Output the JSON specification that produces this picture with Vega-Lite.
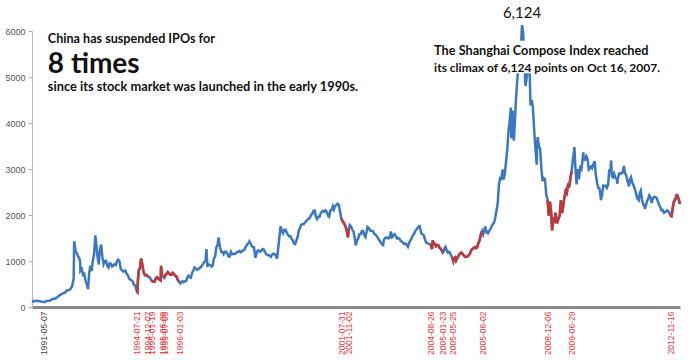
{
  "$schema": "https://vega.github.io/schema/vega-lite/v6.json",
  "width": 648,
  "height": 276,
  "autosize": {"type": "none"},
  "padding": {"left": 32, "top": 31, "right": 15, "bottom": 53},
  "background": "white",
  "config": {"view": {"stroke": null}},
  "datasets": {
    "sse": [
      {"date":"1990-12-19","value":100},{"date":"1990-12-31","value":128},{"date":"1991-01-31","value":129},{"date":"1991-02-28","value":133},{"date":"1991-03-31","value":120},{"date":"1991-04-30","value":113},{"date":"1991-05-17","value":105},{"date":"1991-06-30","value":137},{"date":"1991-07-31","value":143},{"date":"1991-08-31","value":180},{"date":"1991-09-30","value":180},{"date":"1991-10-31","value":219},{"date":"1991-11-30","value":259},{"date":"1991-12-31","value":293},
      {"date":"1992-01-31","value":313},{"date":"1992-02-29","value":364},{"date":"1992-03-31","value":372},{"date":"1992-04-30","value":445},{"date":"1992-05-20","value":617},{"date":"1992-05-26","value":1429},{"date":"1992-06-15","value":1200},{"date":"1992-06-30","value":1170},{"date":"1992-07-15","value":1100},{"date":"1992-07-31","value":1050},{"date":"1992-08-10","value":960},{"date":"1992-08-12","value":781},{"date":"1992-08-31","value":823},{"date":"1992-09-15","value":700},{"date":"1992-09-30","value":720},{"date":"1992-10-15","value":580},{"date":"1992-10-31","value":500},{"date":"1992-11-17","value":386},{"date":"1992-11-30","value":720},{"date":"1992-12-15","value":900},{"date":"1992-12-31","value":780},
      {"date":"1993-01-15","value":1000},{"date":"1993-01-31","value":1150},{"date":"1993-02-16","value":1558},{"date":"1993-02-28","value":1360},{"date":"1993-03-15","value":1100},{"date":"1993-03-31","value":925},{"date":"1993-04-15","value":1250},{"date":"1993-04-30","value":1358},{"date":"1993-05-15","value":1100},{"date":"1993-05-31","value":934},{"date":"1993-06-15","value":1000},{"date":"1993-06-30","value":1007},{"date":"1993-07-15","value":900},{"date":"1993-07-31","value":861},{"date":"1993-08-15","value":950},{"date":"1993-08-31","value":936},{"date":"1993-09-15","value":880},{"date":"1993-09-30","value":903},{"date":"1993-10-15","value":930},{"date":"1993-10-31","value":913},{"date":"1993-11-15","value":1000},{"date":"1993-11-30","value":1030},{"date":"1993-12-15","value":1000},{"date":"1993-12-31","value":833},
      {"date":"1994-01-15","value":800},{"date":"1994-01-31","value":770},{"date":"1994-02-15","value":780},{"date":"1994-02-28","value":792},{"date":"1994-03-15","value":720},{"date":"1994-03-31","value":693},{"date":"1994-04-15","value":620},{"date":"1994-04-30","value":600},{"date":"1994-05-15","value":580},{"date":"1994-05-31","value":560},{"date":"1994-06-15","value":480},{"date":"1994-06-30","value":470},{"date":"1994-07-15","value":380},
      {"date":"1994-07-21","value":340,"s":"1"},{"date":"1994-07-29","value":325,"s":"1"},{"date":"1994-08-05","value":600,"s":"1"},{"date":"1994-08-15","value":800,"s":"1"},{"date":"1994-08-31","value":850,"s":"1"},{"date":"1994-09-13","value":1052,"s":"1"},{"date":"1994-09-30","value":910,"s":"1"},{"date":"1994-10-15","value":750,"s":"1"},{"date":"1994-10-31","value":690,"s":"1"},{"date":"1994-11-15","value":700,"s":"1"},{"date":"1994-11-30","value":680,"s":"1"},{"date":"1994-12-07","value":660,"s":"1"},
      {"date":"1994-12-31","value":647},
      {"date":"1995-01-19","value":580,"s":"2"},{"date":"1995-01-31","value":563,"s":"2"},{"date":"1995-02-15","value":550,"s":"2"},{"date":"1995-02-28","value":550,"s":"2"},{"date":"1995-03-15","value":620,"s":"2"},{"date":"1995-03-31","value":647,"s":"2"},{"date":"1995-04-15","value":620,"s":"2"},{"date":"1995-04-30","value":600,"s":"2"},{"date":"1995-05-17","value":580,"s":"2"},{"date":"1995-05-22","value":897,"s":"2"},{"date":"1995-05-31","value":700,"s":"2"},{"date":"1995-06-09","value":680,"s":"2"},
      {"date":"1995-06-30","value":630},
      {"date":"1995-07-05","value":640,"s":"3"},{"date":"1995-07-15","value":700,"s":"3"},{"date":"1995-07-31","value":720,"s":"3"},{"date":"1995-08-15","value":760,"s":"3"},{"date":"1995-08-31","value":730,"s":"3"},{"date":"1995-09-15","value":700,"s":"3"},{"date":"1995-09-30","value":700,"s":"3"},{"date":"1995-10-15","value":740,"s":"3"},{"date":"1995-10-31","value":716,"s":"3"},{"date":"1995-11-15","value":680,"s":"3"},{"date":"1995-11-30","value":670,"s":"3"},{"date":"1995-12-15","value":600,"s":"3"},{"date":"1995-12-31","value":555,"s":"3"},{"date":"1996-01-03","value":550,"s":"3"},
      {"date":"1996-01-19","value":512},{"date":"1996-01-31","value":537},{"date":"1996-02-15","value":560},{"date":"1996-02-29","value":540},{"date":"1996-03-15","value":560},{"date":"1996-03-31","value":560},{"date":"1996-04-15","value":640},{"date":"1996-04-30","value":680},{"date":"1996-05-15","value":650},{"date":"1996-05-31","value":640},{"date":"1996-06-15","value":750},{"date":"1996-06-30","value":790},{"date":"1996-07-15","value":860},{"date":"1996-07-31","value":840},{"date":"1996-08-15","value":810},{"date":"1996-08-31","value":820},{"date":"1996-09-15","value":850},{"date":"1996-09-30","value":860},{"date":"1996-10-15","value":900},{"date":"1996-10-31","value":940},{"date":"1996-11-15","value":980},{"date":"1996-11-30","value":1000},{"date":"1996-12-11","value":1258},{"date":"1996-12-24","value":870},{"date":"1996-12-31","value":917},
      {"date":"1997-01-15","value":920},{"date":"1997-01-31","value":910},{"date":"1997-02-15","value":880},{"date":"1997-02-28","value":900},{"date":"1997-03-15","value":1050},{"date":"1997-03-31","value":1100},{"date":"1997-04-15","value":1300},{"date":"1997-04-30","value":1350},{"date":"1997-05-12","value":1510},{"date":"1997-05-31","value":1300},{"date":"1997-06-15","value":1200},{"date":"1997-06-30","value":1200},{"date":"1997-07-15","value":1150},{"date":"1997-07-31","value":1200},{"date":"1997-08-15","value":1200},{"date":"1997-08-31","value":1160},{"date":"1997-09-15","value":1100},{"date":"1997-09-30","value":1100},{"date":"1997-10-15","value":1200},{"date":"1997-10-31","value":1150},{"date":"1997-11-15","value":1150},{"date":"1997-11-30","value":1150},{"date":"1997-12-15","value":1170},{"date":"1997-12-31","value":1194},
      {"date":"1998-01-15","value":1200},{"date":"1998-01-31","value":1220},{"date":"1998-02-15","value":1190},{"date":"1998-02-28","value":1200},{"date":"1998-03-15","value":1230},{"date":"1998-03-31","value":1240},{"date":"1998-04-15","value":1300},{"date":"1998-04-30","value":1340},{"date":"1998-05-15","value":1380},{"date":"1998-05-31","value":1400},{"date":"1998-06-04","value":1422},{"date":"1998-06-30","value":1340},{"date":"1998-07-15","value":1300},{"date":"1998-07-31","value":1300},{"date":"1998-08-17","value":1070},{"date":"1998-08-31","value":1150},{"date":"1998-09-15","value":1230},{"date":"1998-09-30","value":1230},{"date":"1998-10-15","value":1200},{"date":"1998-10-31","value":1220},{"date":"1998-11-15","value":1260},{"date":"1998-11-30","value":1250},{"date":"1998-12-15","value":1200},{"date":"1998-12-31","value":1147},
      {"date":"1999-01-15","value":1130},{"date":"1999-01-31","value":1130},{"date":"1999-02-15","value":1110},{"date":"1999-02-28","value":1090},{"date":"1999-03-15","value":1140},{"date":"1999-03-31","value":1160},{"date":"1999-04-15","value":1150},{"date":"1999-04-30","value":1120},{"date":"1999-05-17","value":1050},{"date":"1999-05-31","value":1280},{"date":"1999-06-15","value":1520},{"date":"1999-06-30","value":1756},{"date":"1999-07-15","value":1650},{"date":"1999-07-31","value":1600},{"date":"1999-08-15","value":1680},{"date":"1999-08-31","value":1680},{"date":"1999-09-15","value":1620},{"date":"1999-09-30","value":1570},{"date":"1999-10-15","value":1540},{"date":"1999-10-31","value":1540},{"date":"1999-11-15","value":1480},{"date":"1999-11-30","value":1450},{"date":"1999-12-15","value":1380},{"date":"1999-12-31","value":1367},
      {"date":"2000-01-15","value":1450},{"date":"2000-01-31","value":1535},{"date":"2000-02-15","value":1670},{"date":"2000-02-29","value":1715},{"date":"2000-03-15","value":1790},{"date":"2000-03-31","value":1800},{"date":"2000-04-15","value":1800},{"date":"2000-04-30","value":1836},{"date":"2000-05-15","value":1860},{"date":"2000-05-31","value":1895},{"date":"2000-06-15","value":1920},{"date":"2000-06-30","value":1928},{"date":"2000-07-15","value":2000},{"date":"2000-07-31","value":2023},{"date":"2000-08-15","value":2090},{"date":"2000-08-31","value":2097},{"date":"2000-09-15","value":1960},{"date":"2000-09-30","value":1910},{"date":"2000-10-15","value":1960},{"date":"2000-10-31","value":1961},{"date":"2000-11-15","value":2040},{"date":"2000-11-30","value":2070},{"date":"2000-12-15","value":2090},{"date":"2000-12-31","value":2073},
      {"date":"2001-01-15","value":2100},{"date":"2001-01-31","value":2065},{"date":"2001-02-15","value":1980},{"date":"2001-02-28","value":1960},{"date":"2001-03-15","value":2100},{"date":"2001-03-31","value":2112},{"date":"2001-04-15","value":2190},{"date":"2001-04-30","value":2120},{"date":"2001-05-15","value":2200},{"date":"2001-05-31","value":2214},{"date":"2001-06-14","value":2245},{"date":"2001-06-30","value":2218},{"date":"2001-07-15","value":2080},
      {"date":"2001-07-31","value":1921,"s":"4"},{"date":"2001-08-15","value":1870,"s":"4"},{"date":"2001-08-31","value":1834,"s":"4"},{"date":"2001-09-15","value":1780,"s":"4"},{"date":"2001-09-30","value":1710,"s":"4"},{"date":"2001-10-15","value":1600,"s":"4"},{"date":"2001-10-22","value":1514,"s":"4"},{"date":"2001-11-02","value":1690,"s":"4"},
      {"date":"2001-11-15","value":1780},{"date":"2001-11-30","value":1750},{"date":"2001-12-15","value":1680},{"date":"2001-12-31","value":1646},
      {"date":"2002-01-15","value":1500},{"date":"2002-01-29","value":1339},{"date":"2002-02-15","value":1450},{"date":"2002-02-28","value":1490},{"date":"2002-03-15","value":1580},{"date":"2002-03-31","value":1580},{"date":"2002-04-15","value":1650},{"date":"2002-04-30","value":1650},{"date":"2002-05-15","value":1560},{"date":"2002-05-31","value":1520},{"date":"2002-06-25","value":1740},{"date":"2002-06-30","value":1732},{"date":"2002-07-15","value":1700},{"date":"2002-07-31","value":1660},{"date":"2002-08-15","value":1660},{"date":"2002-08-31","value":1650},{"date":"2002-09-15","value":1600},{"date":"2002-09-30","value":1580},{"date":"2002-10-15","value":1550},{"date":"2002-10-31","value":1510},{"date":"2002-11-15","value":1460},{"date":"2002-11-30","value":1430},{"date":"2002-12-15","value":1380},{"date":"2002-12-31","value":1357},
      {"date":"2003-01-06","value":1320},{"date":"2003-01-15","value":1450},{"date":"2003-01-31","value":1500},{"date":"2003-02-15","value":1510},{"date":"2003-02-28","value":1510},{"date":"2003-03-15","value":1490},{"date":"2003-03-31","value":1510},{"date":"2003-04-15","value":1640},{"date":"2003-04-30","value":1520},{"date":"2003-05-15","value":1550},{"date":"2003-05-31","value":1580},{"date":"2003-06-15","value":1540},{"date":"2003-06-30","value":1490},{"date":"2003-07-15","value":1500},{"date":"2003-07-31","value":1480},{"date":"2003-08-15","value":1440},{"date":"2003-08-31","value":1420},{"date":"2003-09-15","value":1390},{"date":"2003-09-30","value":1370},{"date":"2003-10-15","value":1380},{"date":"2003-10-31","value":1350},{"date":"2003-11-14","value":1310},{"date":"2003-11-30","value":1400},{"date":"2003-12-15","value":1450},{"date":"2003-12-31","value":1497},
      {"date":"2004-01-15","value":1560},{"date":"2004-01-31","value":1590},{"date":"2004-02-15","value":1660},{"date":"2004-02-29","value":1680},{"date":"2004-03-15","value":1720},{"date":"2004-03-31","value":1740},{"date":"2004-04-07","value":1783},{"date":"2004-04-30","value":1600},{"date":"2004-05-15","value":1580},{"date":"2004-05-31","value":1560},{"date":"2004-06-15","value":1470},{"date":"2004-06-30","value":1400},{"date":"2004-07-15","value":1390},{"date":"2004-07-31","value":1380},{"date":"2004-08-15","value":1360},
      {"date":"2004-08-26","value":1360,"s":"5"},{"date":"2004-09-13","value":1260,"s":"5"},{"date":"2004-09-20","value":1450,"s":"5"},{"date":"2004-09-30","value":1396,"s":"5"},{"date":"2004-10-15","value":1380,"s":"5"},{"date":"2004-10-31","value":1320,"s":"5"},{"date":"2004-11-15","value":1350,"s":"5"},{"date":"2004-11-30","value":1340,"s":"5"},{"date":"2004-12-15","value":1290,"s":"5"},{"date":"2004-12-31","value":1266,"s":"5"},{"date":"2005-01-15","value":1220,"s":"5"},{"date":"2005-01-23","value":1180,"s":"5"},
      {"date":"2005-01-31","value":1191},{"date":"2005-02-15","value":1270},{"date":"2005-02-28","value":1306},{"date":"2005-03-15","value":1230},{"date":"2005-03-31","value":1181},{"date":"2005-04-15","value":1200},{"date":"2005-04-30","value":1160},{"date":"2005-05-15","value":1100},
      {"date":"2005-05-25","value":1070,"s":"6"},{"date":"2005-06-06","value":998,"s":"6"},{"date":"2005-06-15","value":1060,"s":"6"},{"date":"2005-06-30","value":1080,"s":"6"},{"date":"2005-07-11","value":1011,"s":"6"},{"date":"2005-07-31","value":1083,"s":"6"},{"date":"2005-08-15","value":1130,"s":"6"},{"date":"2005-08-31","value":1162,"s":"6"},{"date":"2005-09-15","value":1180,"s":"6"},{"date":"2005-09-30","value":1155,"s":"6"},{"date":"2005-10-15","value":1120,"s":"6"},{"date":"2005-10-31","value":1092,"s":"6"},{"date":"2005-11-15","value":1090,"s":"6"},{"date":"2005-11-30","value":1099,"s":"6"},{"date":"2005-12-15","value":1120,"s":"6"},{"date":"2005-12-31","value":1161,"s":"6"},{"date":"2006-01-15","value":1230,"s":"6"},{"date":"2006-01-31","value":1258,"s":"6"},{"date":"2006-02-15","value":1280,"s":"6"},{"date":"2006-02-28","value":1299,"s":"6"},{"date":"2006-03-15","value":1280,"s":"6"},{"date":"2006-03-31","value":1298,"s":"6"},{"date":"2006-04-15","value":1380,"s":"6"},{"date":"2006-04-30","value":1440,"s":"6"},{"date":"2006-05-15","value":1560,"s":"6"},{"date":"2006-05-31","value":1641,"s":"6"},{"date":"2006-06-02","value":1650,"s":"6"},
      {"date":"2006-06-15","value":1580},{"date":"2006-06-30","value":1672},{"date":"2006-07-12","value":1750},{"date":"2006-07-31","value":1612},{"date":"2006-08-15","value":1600},{"date":"2006-08-31","value":1658},{"date":"2006-09-15","value":1700},{"date":"2006-09-30","value":1752},{"date":"2006-10-15","value":1800},{"date":"2006-10-31","value":1837},{"date":"2006-11-15","value":1950},{"date":"2006-11-30","value":2099},{"date":"2006-12-15","value":2250},{"date":"2006-12-31","value":2675},
      {"date":"2007-01-15","value":2800},{"date":"2007-01-31","value":2786},{"date":"2007-02-15","value":2990},{"date":"2007-02-27","value":2771},{"date":"2007-03-15","value":2900},{"date":"2007-03-31","value":3183},{"date":"2007-04-15","value":3450},{"date":"2007-04-30","value":3841},{"date":"2007-05-15","value":4050},{"date":"2007-05-29","value":4335},{"date":"2007-06-04","value":3670},{"date":"2007-06-20","value":4269},{"date":"2007-07-05","value":3615},{"date":"2007-07-20","value":4060},{"date":"2007-07-31","value":4471},{"date":"2007-08-15","value":4870},{"date":"2007-08-31","value":5218},{"date":"2007-09-15","value":5300},{"date":"2007-09-30","value":5552},{"date":"2007-10-16","value":6124},{"date":"2007-10-31","value":5954},{"date":"2007-11-15","value":5300},{"date":"2007-11-28","value":4803},{"date":"2007-12-15","value":5000},{"date":"2007-12-31","value":5261},
      {"date":"2008-01-14","value":5497},{"date":"2008-01-31","value":4383},{"date":"2008-02-15","value":4500},{"date":"2008-02-29","value":4348},{"date":"2008-03-15","value":3900},{"date":"2008-03-31","value":3472},{"date":"2008-04-18","value":3094},{"date":"2008-04-24","value":3580},{"date":"2008-04-30","value":3693},{"date":"2008-05-15","value":3500},{"date":"2008-05-31","value":3433},{"date":"2008-06-15","value":3000},{"date":"2008-06-30","value":2736},{"date":"2008-07-15","value":2800},{"date":"2008-07-31","value":2775},{"date":"2008-08-15","value":2450},
      {"date":"2008-09-01","value":2330,"s":"7"},{"date":"2008-09-16","value":1986,"s":"7"},{"date":"2008-09-30","value":2293,"s":"7"},{"date":"2008-10-15","value":2070,"s":"7"},{"date":"2008-10-28","value":1664,"s":"7"},{"date":"2008-10-31","value":1729,"s":"7"},{"date":"2008-11-15","value":1900,"s":"7"},{"date":"2008-11-30","value":1871,"s":"7"},{"date":"2008-12-06","value":2050,"s":"7"},{"date":"2008-12-15","value":1980,"s":"7"},{"date":"2008-12-31","value":1820,"s":"7"},{"date":"2009-01-15","value":1920,"s":"7"},{"date":"2009-01-31","value":1990,"s":"7"},{"date":"2009-02-15","value":2320,"s":"7"},{"date":"2009-02-28","value":2082,"s":"7"},{"date":"2009-03-03","value":2040,"s":"7"},{"date":"2009-03-15","value":2190,"s":"7"},{"date":"2009-03-31","value":2373,"s":"7"},{"date":"2009-04-15","value":2520,"s":"7"},{"date":"2009-04-30","value":2477,"s":"7"},{"date":"2009-05-15","value":2650,"s":"7"},{"date":"2009-05-31","value":2632,"s":"7"},{"date":"2009-06-15","value":2800,"s":"7"},{"date":"2009-06-29","value":2950,"s":"7"},
      {"date":"2009-07-15","value":3200},{"date":"2009-07-31","value":3412},{"date":"2009-08-04","value":3478},{"date":"2009-08-15","value":3050},{"date":"2009-08-31","value":2667},{"date":"2009-09-15","value":3000},{"date":"2009-09-30","value":2779},{"date":"2009-10-15","value":3030},{"date":"2009-10-31","value":2995},{"date":"2009-11-24","value":3361},{"date":"2009-11-30","value":3195},{"date":"2009-12-15","value":3200},{"date":"2009-12-31","value":3277},
      {"date":"2010-01-15","value":3220},{"date":"2010-01-31","value":2989},{"date":"2010-02-15","value":3018},{"date":"2010-02-28","value":3051},{"date":"2010-03-15","value":3020},{"date":"2010-03-31","value":3109},{"date":"2010-04-15","value":3170},{"date":"2010-04-30","value":2870},{"date":"2010-05-15","value":2700},{"date":"2010-05-31","value":2592},{"date":"2010-06-15","value":2570},{"date":"2010-06-30","value":2398},{"date":"2010-07-02","value":2320},{"date":"2010-07-15","value":2420},{"date":"2010-07-31","value":2637},{"date":"2010-08-15","value":2630},{"date":"2010-08-31","value":2638},{"date":"2010-09-15","value":2590},{"date":"2010-09-30","value":2655},{"date":"2010-10-15","value":2970},{"date":"2010-10-31","value":2979},{"date":"2010-11-08","value":3186},{"date":"2010-11-17","value":2840},{"date":"2010-11-30","value":2820},{"date":"2010-12-15","value":2900},{"date":"2010-12-31","value":2808},
      {"date":"2011-01-15","value":2790},{"date":"2011-01-25","value":2680},{"date":"2011-01-31","value":2790},{"date":"2011-02-15","value":2900},{"date":"2011-02-28","value":2905},{"date":"2011-03-15","value":2900},{"date":"2011-03-31","value":2928},{"date":"2011-04-18","value":3067},{"date":"2011-04-30","value":2911},{"date":"2011-05-15","value":2870},{"date":"2011-05-31","value":2743},{"date":"2011-06-20","value":2622},{"date":"2011-06-30","value":2762},{"date":"2011-07-15","value":2820},{"date":"2011-07-31","value":2701},{"date":"2011-08-15","value":2650},{"date":"2011-08-31","value":2567},{"date":"2011-09-15","value":2480},{"date":"2011-09-30","value":2359},{"date":"2011-10-21","value":2320},{"date":"2011-10-31","value":2468},{"date":"2011-11-15","value":2530},{"date":"2011-11-30","value":2333},{"date":"2011-12-15","value":2230},{"date":"2011-12-31","value":2199},
      {"date":"2012-01-06","value":2132},{"date":"2012-01-31","value":2292},{"date":"2012-02-15","value":2350},{"date":"2012-02-29","value":2428},{"date":"2012-03-15","value":2390},{"date":"2012-03-31","value":2262},{"date":"2012-04-15","value":2360},{"date":"2012-04-30","value":2396},{"date":"2012-05-15","value":2390},{"date":"2012-05-31","value":2372},{"date":"2012-06-15","value":2300},{"date":"2012-06-30","value":2225},{"date":"2012-07-15","value":2180},{"date":"2012-07-31","value":2103},{"date":"2012-08-15","value":2110},{"date":"2012-08-31","value":2047},{"date":"2012-09-15","value":2060},{"date":"2012-09-30","value":2086},{"date":"2012-10-15","value":2100},{"date":"2012-10-31","value":2069},
      {"date":"2012-11-16","value":2015,"s":"8"},{"date":"2012-11-30","value":1980,"s":"8"},{"date":"2012-12-04","value":1949,"s":"8"},{"date":"2012-12-15","value":2100,"s":"8"},{"date":"2012-12-31","value":2269,"s":"8"},{"date":"2013-01-15","value":2330,"s":"8"},{"date":"2013-01-31","value":2385,"s":"8"},{"date":"2013-02-06","value":2434,"s":"8"},{"date":"2013-02-15","value":2432,"s":"8"},{"date":"2013-02-28","value":2365,"s":"8"},{"date":"2013-03-15","value":2280,"s":"8"},{"date":"2013-03-20","value":2240,"s":"8"}
    ]
  },
  "layer": [
    {
      "data": {"name": "sse"},
      "mark": {"type": "line", "color": "#3b78c0", "strokeWidth": 2.5},
      "encoding": {
        "x": {
          "field": "date", "type": "temporal",
          "scale": {"type": "utc", "domain": [{"year": 1990, "month": 12, "date": 14, "utc": true}, {"year": 2013, "month": 3, "date": 21, "utc": true}]},
          "axis": {
            "title": null,
            "values": [
              {"year": 1991, "month": 5, "date": 7, "utc": true},
              {"year": 1994, "month": 7, "date": 21, "utc": true},
              {"year": 1994, "month": 12, "date": 7, "utc": true},
              {"year": 1995, "month": 1, "date": 19, "utc": true},
              {"year": 1995, "month": 6, "date": 9, "utc": true},
              {"year": 1995, "month": 7, "date": 5, "utc": true},
              {"year": 1996, "month": 1, "date": 3, "utc": true},
              {"year": 2001, "month": 7, "date": 31, "utc": true},
              {"year": 2001, "month": 11, "date": 2, "utc": true},
              {"year": 2004, "month": 8, "date": 26, "utc": true},
              {"year": 2005, "month": 1, "date": 23, "utc": true},
              {"year": 2005, "month": 5, "date": 25, "utc": true},
              {"year": 2006, "month": 6, "date": 2, "utc": true},
              {"year": 2008, "month": 9, "date": 1, "utc": true},
              {"year": 2009, "month": 6, "date": 29, "utc": true},
              {"year": 2012, "month": 11, "date": 16, "utc": true}
            ],
            "labelExpr": "utcFormat(datum.value, '%Y-%m-%d') == '2008-09-01' ? '2008-12-06' : (utcFormat(datum.value, '%Y-%m-%d') == '2006-06-02' ? '2005-06-02' : utcFormat(datum.value, '%Y-%m-%d'))",
            "labelAngle": -90,
            "labelOverlap": false,
            "labelBound": false,
            "labelFlush": false,
            "labelFont": "Liberation Sans",
            "labelFontSize": 8.5,
            "labelPadding": 4,
            "labelColor": {"condition": {"test": "utcFormat(datum.value, '%Y-%m-%d') == '1991-05-07'", "value": "#444444"}, "value": "#e8353b"},
            "ticks": false,
            "grid": false,
            "domainColor": "#8a8a8a",
            "domainWidth": 3
          }
        },
        "y": {
          "field": "value", "type": "quantitative",
          "scale": {"domain": [0, 6000], "nice": false},
          "axis": {
            "title": null,
            "values": [0, 1000, 2000, 3000, 4000, 5000, 6000],
            "format": "d",
            "grid": false,
            "labelFont": "Liberation Sans",
            "labelFontSize": 9,
            "labelColor": "#555555",
            "tickColor": "#aaaaaa",
            "tickSize": 4,
            "domainColor": "#bbbbbb",
            "labelPadding": 3
          }
        }
      }
    },
    {
      "data": {"name": "sse"},
      "transform": [{"filter": "isValid(datum.s)"}],
      "mark": {"type": "line", "color": "#c2373a", "strokeWidth": 2.5},
      "encoding": {
        "x": {"field": "date", "type": "temporal"},
        "y": {"field": "value", "type": "quantitative"},
        "detail": {"field": "s"}
      }
    },
    {
      "data": {"values": [{"start": "2007-06-20", "end": "2008-02-10", "low": 5080, "high": 5790}]},
      "mark": {"type": "rect", "color": "white"},
      "encoding": {
        "x": {"field": "start", "type": "temporal"},
        "x2": {"field": "end"},
        "y": {"field": "low", "type": "quantitative"},
        "y2": {"field": "high"}
      }
    },
    {
      "data": {"values": [{"date": "1991-07-01", "value": 5745, "label": "China has suspended IPOs for"}]},
      "mark": {"type": "text", "align": "left", "baseline": "alphabetic", "font": "Lato", "fontSize": 12.6, "fontWeight": "bold", "color": "#111111"},
      "encoding": {"x": {"field": "date", "type": "temporal"}, "y": {"field": "value", "type": "quantitative"}, "text": {"field": "label"}}
    },
    {
      "data": {"values": [{"date": "1991-07-01", "value": 5090, "label": "8 times"}]},
      "mark": {"type": "text", "align": "left", "baseline": "alphabetic", "font": "Lato", "fontSize": 28, "fontWeight": "bold", "color": "#111111"},
      "encoding": {"x": {"field": "date", "type": "temporal"}, "y": {"field": "value", "type": "quantitative"}, "text": {"field": "label"}}
    },
    {
      "data": {"values": [{"date": "1991-07-01", "value": 4700, "label": "since its stock market was launched in the early 1990s."}]},
      "mark": {"type": "text", "align": "left", "baseline": "alphabetic", "font": "Lato", "fontSize": 12.8, "fontWeight": "bold", "color": "#111111"},
      "encoding": {"x": {"field": "date", "type": "temporal"}, "y": {"field": "value", "type": "quantitative"}, "text": {"field": "label"}}
    },
    {
      "data": {"values": [{"date": "2004-10-08", "value": 5478, "label": "The Shanghai Compose Index reached"}]},
      "mark": {"type": "text", "align": "left", "baseline": "alphabetic", "font": "Lato", "fontSize": 12.7, "fontWeight": "bold", "color": "#111111"},
      "encoding": {"x": {"field": "date", "type": "temporal"}, "y": {"field": "value", "type": "quantitative"}, "text": {"field": "label"}}
    },
    {
      "data": {"values": [{"date": "2004-10-08", "value": 5109, "label": "its climax of 6,124 points on Oct 16, 2007."}]},
      "mark": {"type": "text", "align": "left", "baseline": "alphabetic", "font": "Lato", "fontSize": 12, "fontWeight": "bold", "color": "#111111"},
      "encoding": {"x": {"field": "date", "type": "temporal"}, "y": {"field": "value", "type": "quantitative"}, "text": {"field": "label"}}
    },
    {
      "data": {"values": [{"date": "2007-10-16", "value": 6124, "label": "6,124"}]},
      "mark": {"type": "text", "align": "center", "baseline": "bottom", "dy": -4, "font": "Lato", "fontSize": 15, "fontWeight": "normal", "color": "#111111"},
      "encoding": {"x": {"field": "date", "type": "temporal"}, "y": {"field": "value", "type": "quantitative"}, "text": {"field": "label"}}
    }
  ]
}
